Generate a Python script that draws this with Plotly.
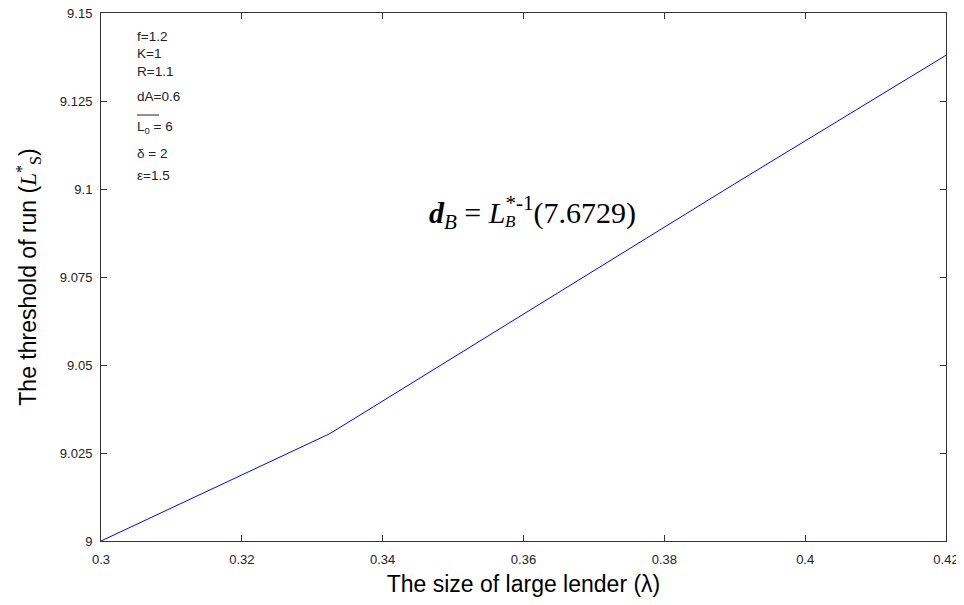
import plotly.graph_objects as go

lam = [0.30, 0.3325, 0.39, 0.42]
threshold = [9.000, 9.0305, 9.1015, 9.138]

x_ticks = [0.30, 0.32, 0.34, 0.36, 0.38, 0.40, 0.42]
x_tick_text = ["0.3", "0.32", "0.34", "0.36", "0.38", "0.4", "0.42"]
y_ticks = [9.0, 9.025, 9.05, 9.075, 9.1, 9.125, 9.15]
y_tick_text = ["9", "9.025", "9.05", "9.075", "9.1", "9.125", "9.15"]

params = ["f=1.2", "K=1", "R=1.1", "dA=0.6", "L<sub>0</sub> = 6", "δ = 2", "ε=1.5"]
param_y = [37, 54, 71, 96, 127, 153, 175]

fig = go.Figure()
fig.add_trace(go.Scatter(x=lam, y=threshold, mode="lines",
                         line=dict(color="#0000ff", width=1), showlegend=False))

# page body has an 8px default margin, so the figure origin sits at (8, 8)
OFF = 8
W, H = 964 - OFF, 605 - 2 * OFF
L, T = 101 - OFF, 13 - OFF
PW, PH = 845, 528
R, B = W - L - PW, H - T - PH


def px(x):
    return (x - OFF - L) / PW


def py(y):
    return 1 - (y - OFF - T) / PH


serif = "Liberation Serif, Times New Roman, serif"
axis_common = dict(ticks="inside", ticklen=6, tickcolor="#333", mirror="ticks",
                   showline=True, linecolor="#333", linewidth=1, showgrid=False,
                   zeroline=False, tickfont=dict(size=13, color="#222"),
                   automargin=False, ticklabeloverflow="allow")
fig.update_layout(
    width=W, height=H,
    margin=dict(l=L, r=R, t=T, b=B),
    plot_bgcolor="white", paper_bgcolor="white",
    font=dict(family="Liberation Sans, Arial, sans-serif", color="black"),
    xaxis=dict(range=[0.3, 0.42], tickvals=x_ticks, ticktext=x_tick_text,
               ticklabelstandoff=6,
               title=dict(text="The size of large lender (λ)", font=dict(size=23), standoff=12),
               **axis_common),
    yaxis=dict(range=[9.0, 9.15], tickvals=y_ticks, ticktext=y_tick_text,
               ticklabelstandoff=5,
               title=dict(text="The threshold of run (<span style=\"font-family:Liberation Serif\"><i>L</i><sup>*</sup><sub>S</sub></span>)",
                          font=dict(size=23), standoff=16),
               **axis_common),
)

for txt, yy in zip(params, param_y):
    fig.add_annotation(xref="paper", yref="paper", x=px(135), y=py(yy),
                       text=txt, showarrow=False, xanchor="left", yanchor="middle",
                       font=dict(size=13.5, color="#222"))

# overline above L0
fig.add_shape(type="line", xref="paper", yref="paper",
              x0=px(137), x1=px(159), y0=py(115), y1=py(115),
              line=dict(color="#222", width=1))

fig.add_annotation(xref="paper", yref="paper", x=px(427), y=py(212),
                   text="<b><i>d</i></b><sub><i>B</i></sub> = <i>L</i><sup>*-1</sup>(7.6729)",
                   showarrow=False, xanchor="left", yanchor="middle",
                   font=dict(size=30, family=serif, color="black"))
fig.add_annotation(xref="paper", yref="paper", x=px(503), y=py(221),
                   text="<i>B</i>", showarrow=False, xanchor="left", yanchor="middle",
                   font=dict(size=17, family=serif, color="black"))

fig.write_html("out.html")
